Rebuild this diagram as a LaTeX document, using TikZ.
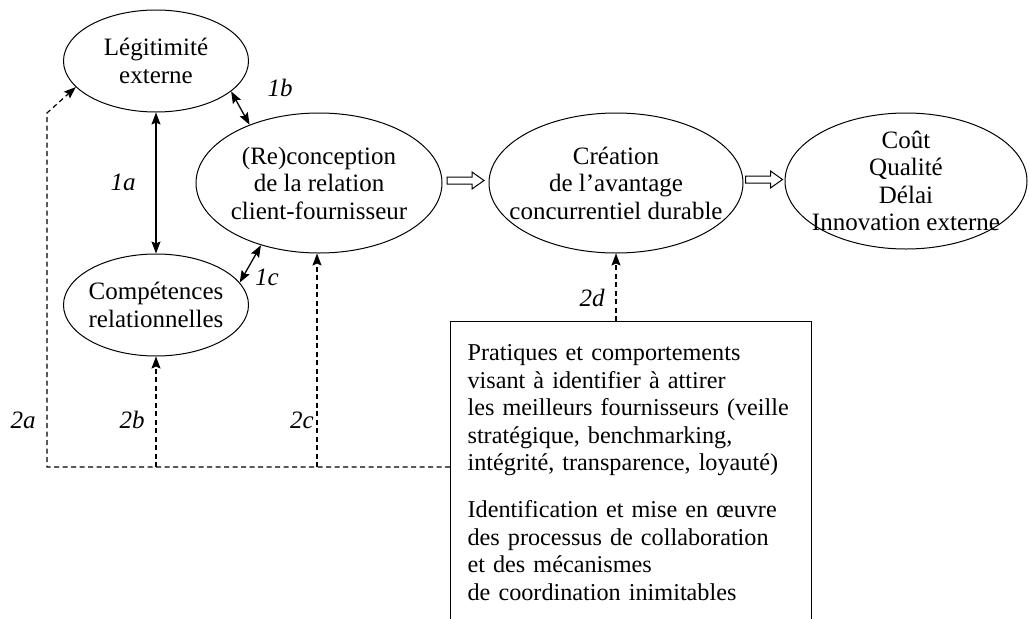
\documentclass[tikz,border=0pt]{standalone}
\usepackage{fontspec}
\setmainfont{Liberation Serif}
\usetikzlibrary{arrows.meta,shapes.geometric,calc}
\begin{document}
\begin{tikzpicture}[x=1pt,y=-1pt,
  >={Stealth[length=12pt,width=9pt,inset=2pt]},
  ell/.style={draw, ellipse, inner sep=0pt, line width=1pt},
  txt/.style={align=center, font=\fontsize{25}{27.5}\selectfont},
  lab/.style={font=\fontsize{25}{27.5}\selectfont\itshape},
  solidarrow/.style={line width=1.3pt, <->},
  dasharrow/.style={line width=1.2pt, dash pattern=on 5pt off 3.5pt, ->},
  boxst/.style={draw, line width=1.2pt, text width=327pt, inner xsep=17pt, inner ysep=23pt,
    align=left, font=\fontsize{24.2}{27.5}\selectfont},
  fatarrow/.pic={\draw[line width=1pt] (-18.5,-6) -- (6.5,-6) -- (6.5,-11) -- (18.5,-2.5)
     -- (6.5,6) -- (6.5,1) -- (-18.5,1) -- cycle;}
]
\useasboundingbox (0,0) rectangle (1029,619);

% ellipses
\node[ell, minimum width=185pt, minimum height=102pt] (leg) at (156,61) {};
\node[txt] at (leg) {Légitimité\\externe};
\node[ell, minimum width=185pt, minimum height=102pt] (comp) at (156,305) {};
\node[txt] at (comp) {Compétences\\relationnelles};
\node[ell, minimum width=246pt, minimum height=140pt] (rec) at (319,183) {};
\node[txt] at (rec) {(Re)conception\\de la relation\\client-fournisseur};
\node[ell, minimum width=254pt, minimum height=140pt] (cre) at (616,183) {};
\node[txt] at (cre) {Création\\de l’avantage\\concurrentiel durable};
\node[ell, minimum width=242pt, minimum height=136pt] (cout) at (906,181) {};
\node[txt] at (cout) {Coût\\Qualité\\Délai\\Innovation externe};

% box
\node[boxst, anchor=north west] (box) at (450,321) {\mbox{Pratiques et comportements}\\
\mbox{visant à identifier à attirer}\\
\mbox{les meilleurs fournisseurs (veille}\\
\mbox{stratégique, benchmarking,}\\
\mbox{intégrité, transparence, loyauté)}\\[19.5pt]
\mbox{Identification et mise en œuvre}\\
\mbox{des processus de collaboration}\\
\mbox{et des mécanismes}\\
\mbox{de coordination inimitables}\rule[-20pt]{0pt}{20pt}};

% fat arrows
\path ($(rec.east)!0.5!(cre.west)$) pic {fatarrow};
\path ($(cre.east)!0.5!(cout.west)$) pic {fatarrow};

% solid double arrows
\draw[solidarrow] (leg.south) -- (comp.north);
\draw[solidarrow] (leg.-22) -- (rec.140);
\draw[solidarrow] (rec.-133) -- (comp.15);

% dashed
\coordinate (h) at (0,467);
\coordinate (c2a) at (47,467);
\coordinate (c2atop) at (47,113);
\coordinate (c2b) at (156,467);
\coordinate (c2c) at (317,467);
\draw[dasharrow] (box.west |- h) -- (c2a) -- (c2atop) -- (leg.-162);
\draw[dasharrow] (c2b) -- (comp.south);
\draw[dasharrow] (c2c) -- (c2c |- rec.south);
\draw[dasharrow] (box.north -| cre.south) -- (cre.south);

% labels
\node[lab] at (123,182) {1a};
\node[lab] at (280,88) {1b};
\node[lab] at (267,277) {1c};
\node[lab] at (23,420) {2a};
\node[lab] at (132,420) {2b};
\node[lab] at (302,420) {2c};
\node[lab] at (592,298) {2d};
\end{tikzpicture}
\end{document}
